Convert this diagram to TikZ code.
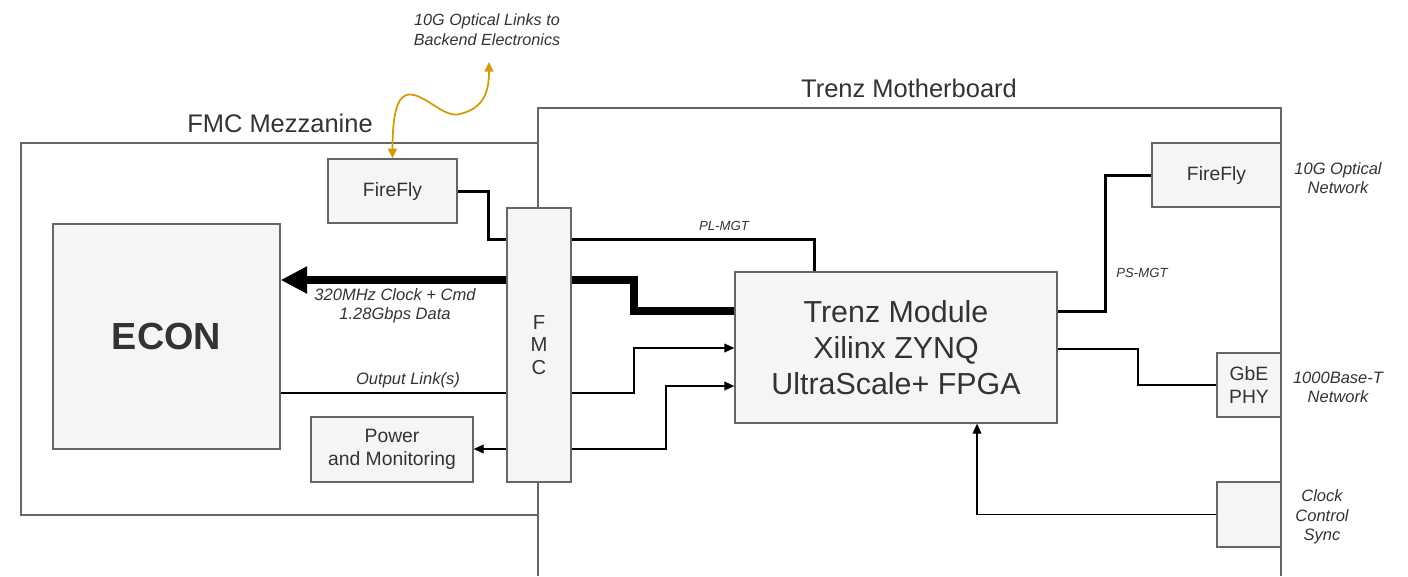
\documentclass[tikz,border=0pt]{standalone}
\usepackage{fontspec}
\setmainfont{Liberation Sans}
\usetikzlibrary{arrows.meta,positioning,calc}
\definecolor{boxfill}{HTML}{F5F5F5}
\definecolor{boxline}{HTML}{666666}
\definecolor{txt}{HTML}{333333}
\definecolor{optic}{HTML}{D79B00}
\tikzset{
  blk/.style 2 args={draw=boxline, fill=boxfill, line width=0.75pt, text=txt,
    minimum width=#1*0.02cm, minimum height=#2*0.02cm, inner sep=0pt,
    align=center, font=\fontsize{11}{13}\selectfont},
  frame/.style={draw=boxline, line width=0.75pt},
  title/.style={text=txt, font=\fontsize{14.5}{17}\selectfont},
  lbl/.style={text=txt, align=center, font=\fontsize{9.4}{11}\selectfont\itshape},
  smalllbl/.style={text=txt, font=\fontsize{7.5}{9}\selectfont\itshape},
  link/.style={line width=0.75pt},
  tolink/.style={link, -{Triangle[length=5.7pt,width=5pt]}},
  mgt/.style={line width=1.7pt},
  bus/.style={line width=4.2pt},
  optlink/.style={draw=optic, line width=1pt,
    {Triangle[length=5.5pt,width=5pt]}-{Triangle[length=5.5pt,width=5pt]}}
}
\begin{document}
\begin{tikzpicture}[x=0.02cm, y=-0.02cm]
\useasboundingbox (0,0) rectangle (1408,576);
% boards
\draw[frame] (538,576) |- (1281,108) -- (1281,576);
\draw[frame] (21,143) rectangle (538,515);
\node[title] (mezzlbl) at (280,123) {FMC Mezzanine};
\node[title] (mobolbl) at (909,88) {Trenz Motherboard};
% blocks
\node[blk={129}{64}] (ffmezz) at (392.5,191) {FireFly};
\node[blk={227}{225}, font=\fontsize{21.5}{24}\selectfont\bfseries] (econ) at (166.5,336.5) {ECON};
\node[blk={64}{274}, font=\fontsize{11.5}{12.8}\selectfont] (fmc) at (539,345) {F\\M\\C};
\node[blk={162}{65}] (power) at (392,449.5) {Power\\and Monitoring};
\node[blk={322}{151}, font=\fontsize{17.3}{20.5}\selectfont] (trenz) at (896,347.5) {Trenz Module\\Xilinx ZYNQ\\UltraScale+ FPGA};
\node[blk={129}{64}] (ffmobo) at (1216.5,175) {FireFly};
\node[blk={64}{64}] (gbe) at (1249,385) {GbE\\PHY};
\node[blk={64}{65}] (clk) at (1249,514.5) {};
% bend points
\coordinate (p1) at (488,239);
\coordinate (p2) at (814,0);
\coordinate (c1) at (634,311);
\coordinate (c2) at (634,280);
\coordinate (c3) at (634,393);
\coordinate (c4) at (634,348);
\coordinate (c5) at (666,449);
\coordinate (c6) at (666,386);
\coordinate (c7) at (1105,311);
\coordinate (c8) at (1138,349);
\coordinate (c9) at (977,0);
\coordinate (optend) at (489,62);
% connectors
\draw[mgt] (ffmezz.east) -| (p1) -- (fmc.west |- p1);
\draw[mgt] (fmc.east |- p1) -| (p2 |- trenz.north);
\draw[bus] (trenz.west |- c1) -- (c1) -- (c2) -- (fmc.east |- c2);
\draw[bus, -{Triangle[length=15pt,width=14.5pt]}] (fmc.west |- c2) -- (econ.east |- c2);
\draw[link] (econ.east |- c3) -- (fmc.west |- c3);
\draw[tolink] (fmc.east |- c3) -| (c4) -- (trenz.west |- c4);
\draw[tolink] (fmc.east |- c5) -| (c6) -- (trenz.west |- c6);
\draw[tolink] (fmc.west |- c5) -- (power.east |- c5);
\draw[mgt] (trenz.east |- c7) -- (c7) |- (ffmobo.west);
\draw[link] (trenz.east |- c8) -- (c8) |- (gbe.west);
\draw[tolink] (clk.west) -| (c9 |- trenz.south);
\draw[optlink] (ffmezz.north) .. controls (392.5,100) and (402,92) .. (414,95)
  .. controls (430,99) and (445,118) .. (460,114)
  .. controls (485,108) and (489,90) .. (optend);
% labels
\node[lbl, font=\fontsize{9.2}{11.3}\selectfont\itshape] (optlbl) at (487,30) {10G Optical Links to\\Backend Electronics};
\node[smalllbl] (pllbl) at (724,226) {PL-MGT};
\node[smalllbl] (pslbl) at (1142,273) {PS-MGT};
\node[lbl] (buslbl) at (395,306) {320MHz Clock + Cmd\\1.28Gbps Data};
\node[lbl] (outlbl) at (408,380) {Output Link(s)};
\node[lbl] (netlbl) at (1338,178) {10G Optical\\Network};
\node[lbl] (gbelbl) at (1338,387) {1000Base-T\\Network};
\node[lbl] (clklbl) at (1322,517) {Clock\\Control\\Sync};
\end{tikzpicture}
\end{document}
